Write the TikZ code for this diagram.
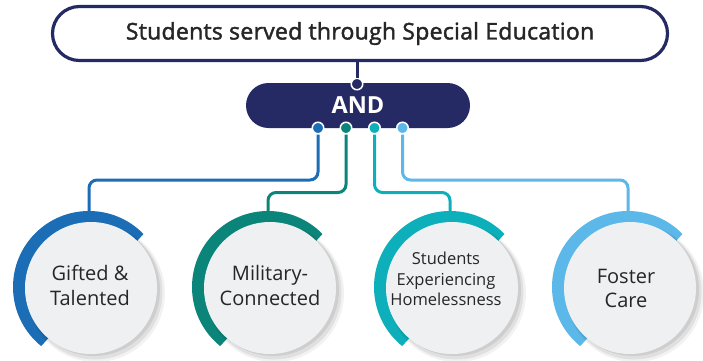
\documentclass[tikz,border=0pt]{standalone}
\usepackage{fontspec}
\setmainfont{Open Sans}
\definecolor{navy}{HTML}{252A64}
\definecolor{cblue}{HTML}{1B6DB6}
\definecolor{cteal}{HTML}{0B857A}
\definecolor{ccyan}{HTML}{0DAFBA}
\definecolor{clight}{HTML}{5BB8E8}
\definecolor{txt}{HTML}{262626}
\definecolor{disc}{HTML}{EFF0F2}
\tikzset{
  pill/.style={rounded corners=#1, inner sep=0pt},
  dot/.style={circle, minimum size=11.5pt, inner sep=0pt, draw=white, line width=1.5pt, fill=#1},
  link/.style={draw=#1, line width=3pt, rounded corners=8pt},
  ring/.style={circle, minimum size=152pt, inner sep=0pt, fill=#1},
  whitedisc/.style={circle, minimum size=132pt, inner sep=0pt, fill=disc},
  label/.style={align=center, text=txt, inner sep=0pt}
}
\begin{document}
\begin{tikzpicture}[x=1pt,y=-1pt]
\useasboundingbox[fill=white] (0,0) rectangle (703,360);
% top box
\node[pill=27pt, draw=navy, line width=3.2pt, fill=white, minimum width=615pt, minimum height=54pt, text=txt]
  (top) at (360,33.5) {\fontsize{23}{27}\selectfont\addfontfeature{FakeBold=1.8,LetterSpace=1.2}Students served through Special Education};
% AND box
\node[pill=22.5pt, fill=navy, minimum width=224pt, minimum height=45pt, text=white]
  (and) at (358,105.5) {\fontsize{23.5}{28}\selectfont\bfseries AND};
% dots
\node[dot=navy] (d0) at (357,84) {};
\node[dot=cblue] (d1) at (318,128) {};
\node[dot=cteal] (d2) at (346,128) {};
\node[dot=ccyan] (d3) at (374.5,128) {};
\node[dot=clight] (d4) at (402.5,128) {};
\draw[navy, line width=3pt] (d0 |- top.south) -- (d0.north);
% circles
\foreach \X/\col/\i in {91/cblue/1, 270/cteal/2, 452/ccyan/3, 630/clight/4}{
  \begin{scope}
    \clip (\X+120,160) -- (\X-110,412) -- (\X-200,412) -- (\X-200,160) -- cycle;
    \node[ring=\col] (r\i) at (\X-2,287) {};
  \end{scope}
  \fill[black, opacity=0.05] (\X+5,293) circle (69);
  \fill[black, opacity=0.07] (\X+4,292) circle (67.5);
  \fill[black, opacity=0.08] (\X+3,290) circle (66);
  \node[whitedisc] (w\i) at (\X,288) {};
}
% connectors
\draw[link=cblue] (d1.south) -- (d1.south |- 0,180) -- (r1.north |- 0,180) -- (r1.north);
\draw[link=cteal] (d2.south) -- (d2.south |- 0,192.5) -- (r2.north |- 0,192.5) -- (r2.north);
\draw[link=ccyan] (d3.south) -- (d3.south |- 0,192.5) -- (r3.north |- 0,192.5) -- (r3.north);
\draw[link=clight] (d4.south) -- (d4.south |- 0,180) -- (r4.north |- 0,180) -- (r4.north);
% labels
\node[label, font=\fontsize{20}{25}\selectfont] (t1) at (90,285) {Gifted \&\\Talented};
\node[label, font=\fontsize{20}{25}\selectfont] (t2) at (270,285) {Military-\\Connected};
\node[label, font=\fontsize{16.5}{20.5}\selectfont] (t3) at (446,279) {Students\\Experiencing\\Homelessness};
\node[label, font=\fontsize{20}{24}\selectfont] (t4) at (626,288) {Foster\\Care};
\end{tikzpicture}
\end{document}
